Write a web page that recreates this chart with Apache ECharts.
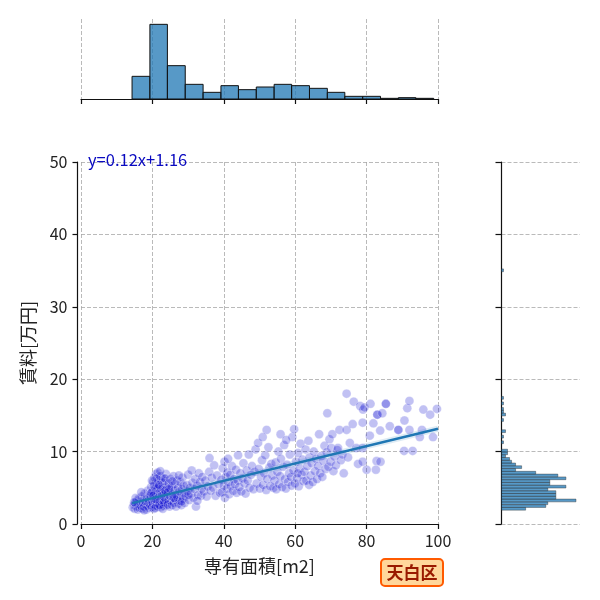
<!DOCTYPE html>
<html>
<head>
<meta charset="utf-8">
<script src="https://cdn.jsdelivr.net/npm/echarts@6/dist/echarts.min.js"></script>
<style>
  html, body { margin: 0; padding: 0; background: #fff; }
  #chart { width: 600px; height: 600px; }
</style>
</head>
<body>
<div id="chart"></div>
<script>
// 専有面積 [m2], 賃料 [万円]
let points = [
  [14.5,2.3],[14.8,2.6],[15.0,2.1],[15.2,2.9],[15.5,2.4],[15.6,3.2],[15.9,2.0],[16.0,2.7],[16.2,3.5],[16.4,2.2],
  [16.6,3.0],[16.8,2.5],[17.0,3.8],[17.1,2.1],[17.3,2.9],[17.5,3.4],[17.6,2.4],[17.8,4.2],[18.0,2.7],[18.1,3.1],
  [18.3,2.0],[18.4,3.6],[18.6,2.5],[18.7,4.6],[18.9,2.9],[19.0,3.3],[19.1,2.2],[19.2,4.0],[15.3,3.6],[16.9,4.4],
  [14.9,3.0],[17.7,1.9],
  [19.4,2.6],[19.5,3.9],[19.6,5.1],[19.8,2.3],[19.9,3.1],[20.0,4.5],[20.1,2.8],[20.2,5.8],[20.3,3.5],[20.4,2.1],
  [20.5,4.1],[20.6,6.4],[20.7,3.0],[20.8,5.0],[20.9,2.5],[21.0,3.8],[21.0,6.9],[21.1,4.6],[21.2,2.9],[21.3,5.5],
  [21.4,3.3],[21.5,7.1],[21.5,2.4],[21.6,4.2],[21.7,6.0],[21.8,3.7],[21.9,2.7],[22.0,5.2],[22.0,4.0],[22.1,3.1],
  [22.2,6.6],[22.3,2.3],[22.4,4.8],[22.5,3.5],[22.6,5.7],[22.7,2.8],[22.8,4.4],[22.9,6.3],[23.0,3.2],[23.0,5.0],
  [23.1,2.5],[23.2,4.1],[23.3,3.7],[23.4,5.9],[23.5,2.9],[23.6,4.6],[23.7,3.4],[23.8,6.9],[23.9,2.6],[24.0,5.3],
  [24.0,4.0],[20.2,3.9],[20.8,2.2],[21.4,4.9],[22.0,2.6],[22.6,3.9],[23.2,3.0],[23.8,4.3],[19.7,4.3],[20.4,5.3],
  [21.2,6.3],[22.2,7.3],[23.4,4.7],[20.9,3.4],[22.9,2.1],[21.8,5.4],[19.9,6.0],[23.6,6.3],
  [24.3,2.7],[24.4,4.4],[24.5,3.3],[24.6,5.6],[24.8,2.4],[24.9,3.9],[25.0,6.2],[25.1,4.8],[25.3,3.1],[25.4,5.2],
  [25.5,2.6],[25.7,4.1],[25.8,3.6],[25.9,6.6],[26.0,2.9],[26.2,4.6],[26.3,5.5],[26.5,3.3],[26.6,2.4],[26.7,4.0],
  [26.9,6.0],[27.0,3.7],[27.2,5.0],[27.3,2.8],[27.5,4.5],[27.6,3.2],[27.8,5.8],[28.0,3.9],[28.1,2.6],[28.3,4.8],
  [28.4,6.4],[28.6,3.5],[28.7,5.3],[28.9,4.2],[29.0,2.9],[24.7,4.9],[26.1,3.6],[27.4,6.7],[28.2,3.1],[25.6,5.9],
  [29.3,3.8],[29.6,5.4],[29.8,4.5],[30.0,6.8],[30.3,3.3],[30.5,5.0],[30.8,4.2],[31.0,7.4],[31.2,5.7],[31.5,3.6],
  [31.8,4.8],[32.0,6.2],[32.2,2.4],[32.5,5.3],[32.8,4.0],[33.0,7.0],[33.3,5.8],[33.6,3.9],[33.8,4.9],[34.0,6.5],
  [30.1,4.0],[32.6,3.2],
  [34.4,4.5],[34.8,6.0],[35.2,3.8],[35.5,5.2],[35.9,7.2],[36.3,4.6],[36.6,6.4],[37.0,5.0],[37.3,8.1],[37.7,3.9],
  [38.1,6.7],[38.5,5.5],[38.9,4.3],[36.0,9.1],
  [39.3,6.1],[39.5,4.4],[39.7,7.7],[40.0,5.3],[40.2,8.6],[40.3,3.6],[40.5,6.5],[40.8,4.9],[41.0,7.1],[41.3,5.8],
  [41.5,4.1],[41.8,6.8],[42.0,5.2],[42.3,8.0],[42.6,4.6],[42.8,6.2],[43.1,5.5],[43.4,7.5],[43.6,4.3],[43.9,6.0],
  [44.0,9.5],[41.2,9.0],
  [44.3,5.1],[44.6,7.0],[44.9,4.5],[45.2,6.3],[45.5,8.4],[45.8,5.6],[46.1,4.2],[46.4,7.4],[46.7,6.0],[47.0,9.6],
  [47.2,5.0],[47.6,6.8],[47.9,8.0],[48.3,4.8],[48.6,7.2],[48.9,10.3],
  [49.2,5.6],[49.6,11.2],[49.8,7.6],[50.1,4.9],[50.4,6.5],[50.7,8.8],[51.0,5.4],[51.3,7.0],[51.6,9.5],[51.9,4.7],
  [52.0,13.0],[52.2,6.2],[52.5,10.6],[52.8,7.8],[53.0,5.2],[53.3,8.3],[53.6,6.7],[53.9,5.0],[50.9,12.0],
  [54.2,6.0],[54.5,8.5],[54.7,4.8],[55.0,7.2],[55.3,10.0],[55.5,5.5],[55.8,6.6],[56.0,9.0],[56.3,5.1],[56.6,7.9],
  [56.9,10.9],[57.1,6.2],[57.4,4.9],[57.7,8.2],[58.0,5.8],[58.3,7.0],[58.5,9.6],[58.8,6.5],[59.0,5.3],[59.2,12.0],
  [55.9,12.4],[57.5,11.6],
  [59.5,7.4],[59.7,13.1],[59.9,5.6],[60.2,8.6],[60.5,6.3],[60.8,9.8],[61.0,5.2],[61.3,7.7],[61.5,11.1],[61.8,6.8],
  [62.0,8.9],[62.3,5.9],[62.6,7.2],[62.9,10.3],[63.1,6.0],[63.4,8.0],[63.7,11.5],[63.9,5.4],[64.0,9.2],[60.7,7.0],
  [64.3,6.7],[64.6,8.4],[64.9,5.8],[65.2,10.0],[65.5,7.3],[65.8,9.0],[66.1,6.2],[66.4,8.0],[66.7,12.4],[67.0,7.0],
  [67.3,9.4],[67.6,6.5],[67.9,8.7],[68.2,10.8],[68.5,7.6],[68.8,9.9],[69.0,15.3],
  [69.3,7.9],[69.6,11.7],[69.9,8.6],[70.1,10.5],[70.4,12.4],[70.7,7.3],[71.0,9.3],[71.4,8.1],[71.8,10.2],[72.0,10.5],
  [72.4,13.0],[72.8,8.8],[73.2,9.6],[73.6,7.0],
  [74.4,18.0],[74.4,13.0],[74.8,9.2],[75.3,11.2],[76.1,13.8],[76.4,16.9],[77.1,10.5],[77.6,8.3],[78.2,16.3],[78.9,14.0],
  [78.9,10.5],[78.9,8.6],
  [79.0,15.8],[79.4,16.1],[80.0,7.5],[80.9,12.2],[81.1,16.6],[81.9,13.9],[82.6,7.5],[82.8,8.7],[83.0,15.1],[83.0,15.1],
  [83.8,12.9],[83.9,8.6],
  [84.4,15.3],[85.4,16.6],[85.4,16.6],[86.5,13.5],[88.9,13.0],[88.9,13.0],[90.5,10.1],[90.6,14.3],[91.4,16.0],[92.0,17.0],
  [92.0,13.0],[92.9,10.1],[94.9,12.0],[95.5,13.0],[95.9,15.8],[97.8,15.1],[98.6,12.0],[99.7,15.9]
];

// regression line
let regX = [14.3, 100];
let regY = [2.88, 13.16];
let regLabel = 'y=0.12x+1.16';

// top histogram (専有面積)
let areaEdges = [14.3, 19.3, 24.2, 29.2, 34.2, 39.2, 44.1, 49.1, 54.1, 59.0, 64.0, 69.0, 73.9, 78.9, 83.9, 88.9, 93.8, 98.8];
let areaCounts = [34, 112, 50, 22, 10, 20, 14, 18, 22, 20, 16, 10, 4, 4, 1, 2, 1];

// right histogram (賃料)
let rentBinWidth = 0.383;
let rentLower = [1.91, 2.29, 2.68, 3.06, 3.44, 3.83, 4.21, 4.59, 4.97, 5.36, 5.74, 6.12, 6.51, 6.89, 7.27, 7.66,
  8.04, 8.42, 8.80, 9.19, 9.57, 9.95, 11.10, 11.87, 12.63, 14.17, 14.93, 15.32, 15.70, 16.47, 17.23, 34.85];
let rentCounts = [12, 22, 23, 37, 27, 27, 27, 23, 32, 24, 24, 32, 28, 17, 7, 10, 7, 5, 4, 2, 3, 3,
  1, 1, 2, 1, 2, 1, 1, 1, 1, 1];

let xTicks = [0, 20, 40, 60, 80, 100];
let yTicks = [0, 10, 20, 30, 40, 50];
let xName = '専有面積[m2]';
let yName = '賃料[万円]';
let wardName = '天白区';

let font = '"Noto Sans CJK JP", "Noto Sans", sans-serif';
let gridLine = { show: true, lineStyle: { color: '#a8a8a8', width: 0.8, type: [4, 2] } };
let histFill = 'rgba(31,119,180,0.75)';

let areaHist = areaCounts.map(function (c, i) {
  return [areaEdges[i], areaEdges[i + 1], c];
});
let rentHist = rentCounts.map(function (c, i) {
  return [rentLower[i], rentLower[i] + rentBinWidth, c];
});

let chart = echarts.init(document.getElementById('chart'));
chart.setOption({
  animation: false,
  textStyle: { fontFamily: font },
  grid: [
    { left: 81, right: 162, top: 162, bottom: 76 },
    { left: 81, right: 162, top: 19, bottom: 501 },
    { left: 501.5, right: 20, top: 162, bottom: 76 }
  ],
  xAxis: [
    {
      gridIndex: 0, type: 'value', min: xTicks[0], max: xTicks[xTicks.length - 1], interval: 20,
      name: xName, nameLocation: 'middle', nameGap: 33,
      nameTextStyle: { fontSize: 18, color: '#222', fontFamily: font },
      axisLine: { show: true, onZero: false, lineStyle: { color: '#111', width: 1.2 } },
      axisTick: { show: true, inside: false, length: 5, lineStyle: { color: '#111', width: 1.2 } },
      axisLabel: { fontSize: 16, color: '#222', margin: 9, fontFamily: font },
      splitLine: gridLine
    },
    {
      gridIndex: 1, type: 'value', min: 0, max: 100, interval: 20,
      axisLine: { show: true, onZero: false, lineStyle: { color: '#111', width: 1.2 } },
      axisTick: { show: true, inside: false, length: 5, lineStyle: { color: '#111', width: 1.2 } },
      axisLabel: { show: false },
      splitLine: gridLine
    },
    {
      gridIndex: 2, type: 'value', min: 0, max: 39, show: false
    }
  ],
  yAxis: [
    {
      gridIndex: 0, type: 'value', min: yTicks[0], max: yTicks[yTicks.length - 1], interval: 10, offset: 3.5,
      name: yName, nameLocation: 'middle', nameGap: 40, nameRotate: 90,
      nameTextStyle: { fontSize: 18, color: '#222', fontFamily: font },
      axisLine: { show: true, onZero: false, lineStyle: { color: '#111', width: 1.2 } },
      axisTick: { show: true, inside: false, length: 5, lineStyle: { color: '#111', width: 1.2 } },
      axisLabel: { fontSize: 16, color: '#222', margin: 10, fontFamily: font },
      splitLine: gridLine
    },
    {
      gridIndex: 1, type: 'value', min: 0, max: 120, show: false
    },
    {
      gridIndex: 2, type: 'value', min: 0, max: 50, interval: 10,
      axisLine: { show: true, onZero: false, lineStyle: { color: '#111', width: 1.2 } },
      axisTick: { show: true, inside: false, length: 6, lineStyle: { color: '#111', width: 1.2 } },
      axisLabel: { show: false },
      splitLine: gridLine
    }
  ],
  series: [
    {
      type: 'scatter',
      xAxisIndex: 0, yAxisIndex: 0,
      data: points,
      symbolSize: 9,
      itemStyle: { color: 'rgba(0,0,205,0.3)', borderColor: 'rgba(255,255,255,0.6)', borderWidth: 0.6 },
      z: 3
    },
    {
      // confidence band (very narrow)
      type: 'line',
      xAxisIndex: 0, yAxisIndex: 0,
      data: regX.map(function (x, i) { return [x, regY[i]]; }),
      symbol: 'none',
      lineStyle: { color: 'rgba(31,119,180,0.15)', width: 6 },
      z: 4
    },
    {
      type: 'line',
      xAxisIndex: 0, yAxisIndex: 0,
      data: regX.map(function (x, i) { return [x, regY[i]]; }),
      symbol: 'none',
      lineStyle: { color: '#1f77b4', width: 2.4 },
      z: 5
    },
    {
      type: 'custom',
      xAxisIndex: 1, yAxisIndex: 1,
      data: areaHist,
      encode: { x: [0, 1], y: 2 },
      renderItem: function (params, api) {
        let p0 = api.coord([api.value(0), 0]);
        let p1 = api.coord([api.value(1), api.value(2)]);
        return {
          type: 'rect',
          shape: { x: p0[0], y: p1[1], width: p1[0] - p0[0], height: p0[1] - p1[1] },
          style: { fill: histFill, stroke: '#111', lineWidth: 1 }
        };
      }
    },
    {
      type: 'custom',
      xAxisIndex: 2, yAxisIndex: 2,
      data: rentHist,
      encode: { y: [0, 1], x: 2 },
      renderItem: function (params, api) {
        let p0 = api.coord([0, api.value(0)]);
        let p1 = api.coord([api.value(2), api.value(1)]);
        return {
          type: 'rect',
          shape: { x: p0[0], y: p1[1], width: p1[0] - p0[0], height: p0[1] - p1[1] },
          style: { fill: histFill, stroke: 'rgba(40,40,40,0.8)', lineWidth: 0.5 }
        };
      }
    }
  ],
  graphic: [
    {
      type: 'text', left: 88, top: 151, z: 10,
      style: { text: regLabel, fontSize: 16.5, fill: '#0a0ac0', fontFamily: font }
    },
    {
      type: 'group', left: 380, top: 558, z: 10,
      children: [
        {
          type: 'rect',
          shape: { x: 0, y: 0, width: 62, height: 27, r: 4 },
          style: { fill: '#ffd79b', stroke: '#ff5a00', lineWidth: 2 }
        },
        {
          type: 'text', x: 31, y: 14,
          style: {
            text: wardName, fontSize: 17, fontWeight: 'bold', fill: '#9a1a00',
            align: 'center', verticalAlign: 'middle', fontFamily: font
          }
        }
      ]
    }
  ]
});
</script>
</body>
</html>
